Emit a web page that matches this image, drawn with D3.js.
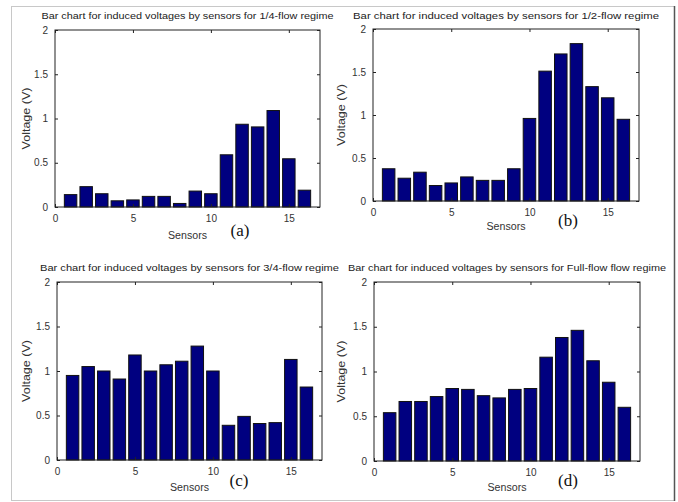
<!DOCTYPE html>
<html>
<head>
<meta charset="utf-8">
<script src="https://cdn.jsdelivr.net/npm/d3@7"></script>
<style>
  html, body { margin: 0; padding: 0; background: #fff; }
  svg { display: block; }
  text { font-family: "Liberation Sans", Arial, sans-serif; }
</style>
</head>
<body>
<svg id="fig" width="678" height="502"></svg>
<script>
// Sensor numbers along the pipe
const sensors = [1, 2, 3, 4, 5, 6, 7, 8, 9, 10, 11, 12, 13, 14, 15, 16];

// Induced voltage (V) per sensor for each flow regime
const quarterFlow      = [0.14, 0.23, 0.15, 0.07, 0.08, 0.12, 0.12, 0.04, 0.18, 0.15, 0.59, 0.935, 0.905, 1.09, 0.545, 0.19];
const halfFlow         = [0.375, 0.265, 0.335, 0.18, 0.21, 0.28, 0.24, 0.24, 0.375, 0.96, 1.51, 1.71, 1.83, 1.33, 1.2, 0.95];
const threeQuarterFlow = [0.95, 1.05, 1.0, 0.91, 1.18, 1.0, 1.07, 1.11, 1.28, 1.0, 0.39, 0.49, 0.41, 0.42, 1.13, 0.82];
const fullFlow         = [0.54, 0.665, 0.665, 0.72, 0.81, 0.80, 0.73, 0.705, 0.80, 0.81, 1.16, 1.38, 1.46, 1.12, 0.88, 0.60];

// Axis ticks
const xTicks = [0, 5, 10, 15];
const yTicks = [0, 0.5, 1, 1.5, 2];
const yTickLabels = ["0", "0.5", "1", "1.5", "2"];

// Titles and panel letters
const titles = [
  "Bar chart for induced voltages by sensors for 1/4-flow regime",
  "Bar chart for induced voltages by sensors for 1/2-flow regime",
  "Bar chart for induced voltages by sensors for 3/4-flow regime",
  "Bar chart for induced voltages by sensors for Full-flow flow regime"
];
const letters = ["(a)", "(b)", "(c)", "(d)"];
const seriesList = [quarterFlow, halfFlow, threeQuarterFlow, fullFlow];

// Panel placement (pixel box of each axes)
const panels = [
  { x0: 55,  x1: 320, yTop: 30,  yBot: 207, titleW: 292, titleY: 19,  letterX: 240, letterY: 236, xLblY: 239, vX: 27 },
  { x0: 373, x1: 639, yTop: 29,  yBot: 201, titleW: 306, titleY: 19,  letterX: 568, letterY: 226, xLblY: 230, vX: 342 },
  { x0: 57,  x1: 322, yTop: 282, yBot: 460, titleW: 299, titleY: 271, letterX: 239, letterY: 486, xLblY: 491, vX: 27 },
  { x0: 374, x1: 640, yTop: 282, yBot: 461, titleW: 318, titleY: 271, letterX: 568, letterY: 486, xLblY: 491, vX: 342 }
];

const svg = d3.select("#fig");

// Outer figure frame
svg.append("rect")
  .attr("x", 11.5).attr("y", 6.5)
  .attr("width", 663).attr("height", 494)
  .attr("fill", "none").attr("stroke", "#c8c8c8").attr("stroke-width", 1);
svg.append("line")
  .attr("x1", 674.5).attr("x2", 674.5).attr("y1", 6).attr("y2", 501)
  .attr("stroke", "#555").attr("stroke-width", 1.5);

const barColor = "#000080";
const tickLen = 3;

panels.forEach((p, i) => {
  const values = seriesList[i];
  const x = d3.scaleLinear().domain([0, 17]).range([p.x0, p.x1]);
  const y = d3.scaleLinear().domain([0, 2]).range([p.yBot, p.yTop]);
  const g = svg.append("g");

  // Bars
  const bw = x(0.8) - x(0);
  g.selectAll("rect.bar").data(sensors).enter().append("rect")
    .attr("class", "bar")
    .attr("x", (d) => x(d) - bw / 2)
    .attr("width", bw)
    .attr("y", (d, k) => y(values[k]))
    .attr("height", (d, k) => y(0) - y(values[k]))
    .attr("fill", barColor)
    .attr("stroke", "#111")
    .attr("stroke-width", 1);

  // Axes box
  g.append("rect")
    .attr("x", p.x0).attr("y", p.yTop)
    .attr("width", p.x1 - p.x0).attr("height", p.yBot - p.yTop)
    .attr("fill", "none").attr("stroke", "#222").attr("stroke-width", 1);

  // Bottom axis with inward ticks
  const xAxis = d3.axisBottom(x).tickValues(xTicks).tickSize(-tickLen).tickPadding(8).tickFormat(d3.format("d"));
  const ax = g.append("g").attr("transform", `translate(0,${p.yBot})`).call(xAxis);
  // Top mirror ticks
  const axTop = g.append("g").attr("transform", `translate(0,${p.yTop})`)
    .call(d3.axisTop(x).tickValues(xTicks).tickSize(-tickLen).tickFormat(""));
  // Left axis
  const yAxis = d3.axisLeft(y).tickValues(yTicks).tickSize(-tickLen).tickPadding(7)
    .tickFormat((d, k) => yTickLabels[k]);
  const ay = g.append("g").attr("transform", `translate(${p.x0},0)`).call(yAxis);
  // Right mirror ticks
  const ayR = g.append("g").attr("transform", `translate(${p.x1},0)`)
    .call(d3.axisRight(y).tickValues(yTicks).tickSize(-tickLen).tickFormat(""));

  [ax, axTop, ay, ayR].forEach((a) => {
    a.select(".domain").remove();
    a.selectAll(".tick line").attr("stroke", "#222");
    a.selectAll(".tick text")
      .attr("fill", "#333")
      .style("font-size", "10px")
      .style("font-family", "'Liberation Sans', Arial, sans-serif");
  });

  // Title
  g.append("text")
    .attr("x", (p.x0 + p.x1) / 2)
    .attr("y", p.titleY)
    .attr("text-anchor", "middle")
    .attr("textLength", p.titleW)
    .attr("lengthAdjust", "spacingAndGlyphs")
    .style("font-size", "9.5px")
    .attr("fill", "#222")
    .text(titles[i]);

  // X label
  g.append("text")
    .attr("x", (p.x0 + p.x1) / 2)
    .attr("y", p.xLblY)
    .attr("text-anchor", "middle")
    .attr("textLength", 39)
    .attr("lengthAdjust", "spacingAndGlyphs")
    .style("font-size", "10px")
    .attr("fill", "#333")
    .text("Sensors");

  // Y label
  g.append("text")
    .attr("transform", `translate(${p.vX + 3},${(p.yTop + p.yBot) / 2}) rotate(-90)`)
    .attr("text-anchor", "middle")
    .attr("textLength", 62)
    .attr("lengthAdjust", "spacingAndGlyphs")
    .style("font-size", "10px")
    .attr("fill", "#333")
    .text("Voltage (V)");

  // Panel letter
  g.append("text")
    .attr("x", p.letterX)
    .attr("y", p.letterY)
    .attr("text-anchor", "middle")
    .style("font-family", "'Liberation Serif', 'Times New Roman', serif")
    .style("font-size", "17px")
    .attr("fill", "#111")
    .text(letters[i]);
});
</script>
</body>
</html>
